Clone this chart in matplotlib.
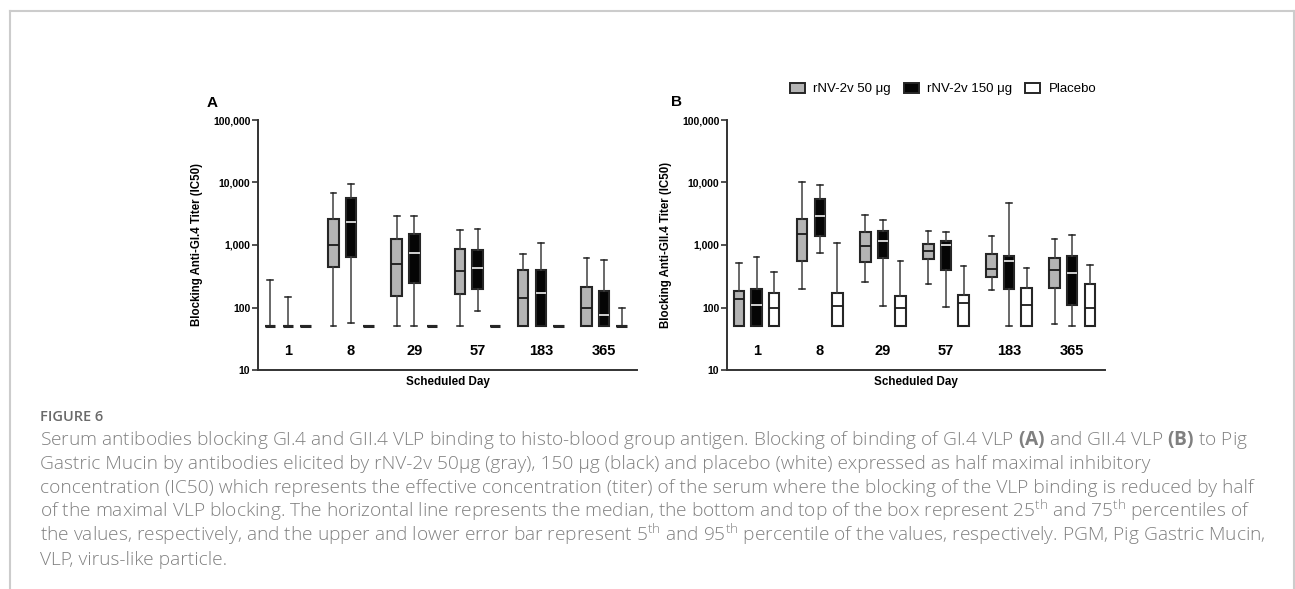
import matplotlib
matplotlib.use('Agg')
import matplotlib.pyplot as plt
from matplotlib.patches import Patch
from matplotlib.lines import Line2D
import numpy as np

plt.rcParams['font.family'] = ['Liberation Sans', 'DejaVu Sans']
plt.rcParams['mathtext.fontset'] = 'custom'
plt.rcParams['mathtext.rm'] = 'Open Sans:light'
plt.rcParams['mathtext.bf'] = 'Open Sans:bold'

days = ['1', '8', '29', '57', '183', '365']
groups = ['rNV-2v 50 μg', 'rNV-2v 150 μg', 'Placebo']

# (5th pct, q1, median, q3, 95th pct) per scheduled day
A_50 = [(50, 50, 50, 50, 280), (50, 444, 1000, 2580, 6900), (50, 154, 502, 1263, 2880),
        (50, 164, 378, 874, 1718), (50, 50, 140, 405, 710), (50, 50, 99, 212, 612)]
A_150 = [(50, 50, 50, 50, 145), (57, 650, 2310, 5680, 9400), (51, 245, 745, 1483, 2880),
         (88, 197, 422, 842, 1785), (50, 50, 170, 405, 1062), (50, 50, 75, 183, 585)]
A_placebo = [(50, 50, 50, 50, 50), (50, 50, 50, 50, 50), (50, 50, 50, 50, 50),
             (50, 50, 50, 50, 50), (50, 50, 50, 50, 50), (50, 50, 50, 50, 100)]

B_50 = [(50, 50, 137, 185, 511), (200, 547, 1520, 2640, 10000), (255, 533, 963, 1617, 2990),
        (240, 589, 791, 1037, 1656), (192, 310, 412, 726, 1394), (55, 207, 402, 626, 1248)]
B_150 = [(50, 50, 108, 197, 644), (735, 1410, 2920, 5470, 9180), (104, 626, 1173, 1700, 2490),
         (102, 393, 1000, 1159, 1640), (50, 200, 553, 658, 4660), (50, 111, 360, 658, 1447)]
B_placebo = [(50, 50, 100, 172, 372), (50, 50, 107, 168, 1075), (50, 50, 100, 152, 561),
             (50, 50, 119, 160, 455), (50, 50, 111, 207, 433), (50, 50, 100, 234, 477)]

fills = ['#b4b4b4', '#050505', '#ffffff']
med_colors = ['#1a1a1a', '#e0e0e0', '#1a1a1a']
edge = '#262626'
offsets = [-0.278, 0.0, 0.278]

W, H = 1295, 589
fig = plt.figure(figsize=(W / 100, H / 100), dpi=100)


def draw_panel(rect, series, ylabel, letter, letter_xy):
    ax = fig.add_axes(rect)
    for j, vals in enumerate(series):
        stats = [dict(whislo=v[0], q1=v[1], med=v[2], q3=v[3], whishi=v[4], fliers=[])
                 for v in vals]
        pos = np.arange(len(days)) + offsets[j]
        parts = ax.bxp(stats, positions=pos, widths=0.165, capwidths=0.09, patch_artist=True,
                       showfliers=False, manage_ticks=False,
                       boxprops=dict(facecolor=fills[j], edgecolor=edge, linewidth=1.5),
                       medianprops=dict(color=med_colors[j], linewidth=1.3),
                       whiskerprops=dict(color='#404040', linewidth=1.1),
                       capprops=dict(color='#202020', linewidth=1.1))
        # collapsed boxes (all values at the detection limit) show as a solid bar
        for v, med in zip(vals, parts['medians']):
            if v[1] == v[3]:
                med.set_color(edge)
                med.set_linewidth(2.2)
    ax.set_yscale('log')
    ax.set_ylim(10, 100000)
    ax.set_xlim(-0.47, 5.52)
    ticks = [10, 100, 1000, 10000, 100000]
    ax.set_yticks(ticks, ['{:,}'.format(t) for t in ticks], fontsize=7.5, fontweight='bold')
    ax.minorticks_off()
    ax.tick_params(axis='y', length=4, width=1.2, color='#333333', pad=1.5)
    ax.set_xticks(range(len(days)), days, fontsize=10.5, fontweight='bold')
    ax.tick_params(axis='x', length=0, pad=-19)
    for s in ['top', 'right']:
        ax.spines[s].set_visible(False)
    for s in ['left', 'bottom']:
        ax.spines[s].set_color('#333333')
        ax.spines[s].set_linewidth(1.4)
    ax.set_xlabel('Scheduled Day', fontsize=8.4, fontweight='bold')
    ax.xaxis.set_label_coords(0.5, -0.026)
    ax.set_ylabel(ylabel, fontsize=8.3, fontweight='bold')
    ax.yaxis.set_label_coords(-0.145, 0.5)
    fig.text(letter_xy[0] / W, 1 - letter_xy[1] / H, letter, fontsize=11,
             fontweight='bold', ha='center', va='center')
    return ax


draw_panel([258 / W, 1 - 370 / H, 379 / W, 250 / H], [A_50, A_150, A_placebo],
           'Blocking Anti-GI.4 Titer (IC50)', 'A', (212, 103.5))
draw_panel([727 / W, 1 - 370 / H, 378 / W, 250 / H], [B_50, B_150, B_placebo],
           'Blocking Anti-GII.4 Titer (IC50)', 'B', (677, 102.5))

handles = [Patch(facecolor=fills[j], edgecolor=edge, linewidth=1.4, label=groups[j])
           for j in range(3)]
fig.legend(handles=handles, loc='center left', bbox_to_anchor=(790 / W, 1 - 89 / H),
           ncol=3, frameon=False, fontsize=9.5, handlelength=1.15, handleheight=0.8,
           handletextpad=0.6, columnspacing=1.0, borderpad=0, borderaxespad=0)

# caption
cap_color = '#808080'
fig.text(40 / W, 1 - 421 / H, 'FIGURE 6', fontsize=10.5, color='#6a6a6a',
         family='Open Sans', fontweight='semibold', va='baseline')
caption = [
    r'Serum antibodies blocking GI.4 and GII.4 VLP binding to histo-blood group antigen. '
    r'Blocking of binding of GI.4 VLP $\mathbf{(A)}$ and GII.4 VLP $\mathbf{(B)}$ to Pig',
    'Gastric Mucin by antibodies elicited by rNV-2v 50μg (gray), 150 μg (black) and placebo '
    '(white) expressed as half maximal inhibitory',
    'concentration (IC50) which represents the effective concentration (titer) of the serum '
    'where the blocking of the VLP binding is reduced by half',
    r'of the maximal VLP blocking. The horizontal line represents the median, the bottom and top '
    r'of the box represent 25$^{\mathrm{th}}$ and 75$^{\mathrm{th}}$ percentiles of',
    r'the values, respectively, and the upper and lower error bar represent 5$^{\mathrm{th}}$ '
    r'and 95$^{\mathrm{th}}$ percentile of the values, respectively. PGM, Pig Gastric Mucin,',
    'VLP, virus-like particle.',
]
for i, line in enumerate(caption):
    fig.text(40 / W, 1 - (445 + 24 * i) / H, line, fontsize=13.8, color=cap_color,
             family='Open Sans', fontweight='light', va='baseline')

# outer frame
frame = dict(color='#cccccc', linewidth=1.5, transform=fig.transFigure)
fig.add_artist(Line2D([10 / W, 10 / W], [0, 1 - 11 / H], **frame))
fig.add_artist(Line2D([10 / W, 1294 / W], [1 - 11 / H, 1 - 11 / H], **frame))
fig.add_artist(Line2D([1294 / W, 1294 / W], [0, 1 - 11 / H], **frame))

fig.savefig('out.png', dpi=100)
